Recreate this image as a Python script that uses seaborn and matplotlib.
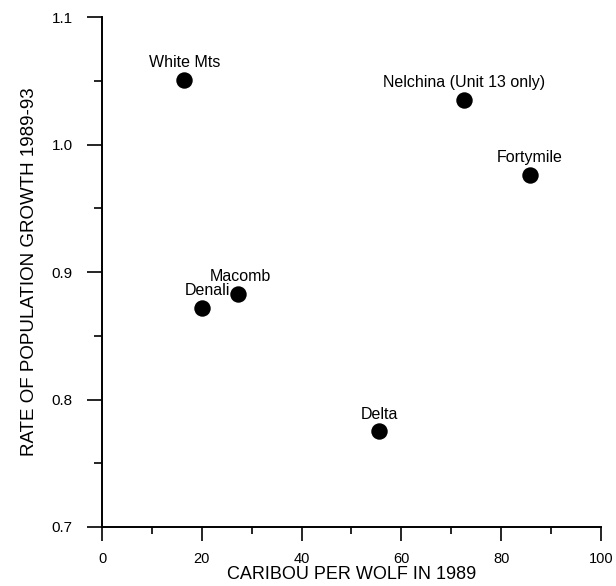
import matplotlib
matplotlib.use("Agg")
import matplotlib.pyplot as plt
import seaborn as sns
import pandas as pd
from matplotlib.ticker import MultipleLocator

herds = ["White Mts", "Nelchina (Unit 13 only)", "Fortymile", "Macomb", "Denali", "Delta"]
caribou_per_wolf = [16.5, 72.6, 85.8, 27.2, 20.0, 55.6]
growth_rate = [1.051, 1.035, 0.976, 0.883, 0.872, 0.775]

df = pd.DataFrame({"x": caribou_per_wolf, "y": growth_rate, "herd": herds})

sns.set_style("ticks")
plt.rcParams["font.family"] = ["Liberation Sans", "DejaVu Sans"]
plt.rcParams["text.color"] = "black"
plt.rcParams["axes.labelcolor"] = "black"

fig = plt.figure(figsize=(6.16, 5.86), dpi=100)
ax = fig.add_axes([0.1656, 0.1007, 0.81, 0.870])

sns.scatterplot(data=df, x="x", y="y", ax=ax, color="black", s=140,
                edgecolor="black", linewidth=0, legend=False, zorder=3)

# label offsets (points) relative to each marker
offsets = {
    "White Mts": (0, 7),
    "Nelchina (Unit 13 only)": (0, 7),
    "Fortymile": (0, 7),
    "Macomb": (2, 7),
    "Denali": (4, 7),
    "Delta": (0, 7),
}
for xi, yi, name in zip(caribou_per_wolf, growth_rate, herds):
    dx, dy = offsets[name]
    ax.annotate(name, (xi, yi), xytext=(dx, dy), textcoords="offset points",
                ha="center", va="bottom", fontsize=11.5, color="black")

ax.set_xlim(0, 100)
ax.set_ylim(0.7, 1.1)
ax.xaxis.set_major_locator(MultipleLocator(20))
ax.xaxis.set_minor_locator(MultipleLocator(10))
ax.yaxis.set_major_locator(MultipleLocator(0.1))
ax.yaxis.set_minor_locator(MultipleLocator(0.05))
ax.yaxis.set_major_formatter(matplotlib.ticker.FormatStrFormatter("%.1f"))

for s in ["top", "right"]:
    ax.spines[s].set_visible(False)
for s in ["left", "bottom"]:
    ax.spines[s].set_linewidth(1.4)
    ax.spines[s].set_color("black")

ax.tick_params(axis="y", which="major", direction="out", length=11, width=1.2, pad=10, labelsize=11, colors="black")
ax.tick_params(axis="y", which="minor", direction="out", length=6, width=1.2, colors="black")
ax.tick_params(axis="x", which="major", direction="out", length=10, width=1.2, pad=8, labelsize=10.5, colors="black")
ax.tick_params(axis="x", which="minor", direction="out", length=5, width=1.2, colors="black")

ax.set_xlabel("CARIBOU PER WOLF IN 1989", fontsize=13, labelpad=0)
ax.set_ylabel("RATE OF POPULATION GROWTH 1989-93", fontsize=13.5, labelpad=10)

fig.savefig("out.png", dpi=100)
